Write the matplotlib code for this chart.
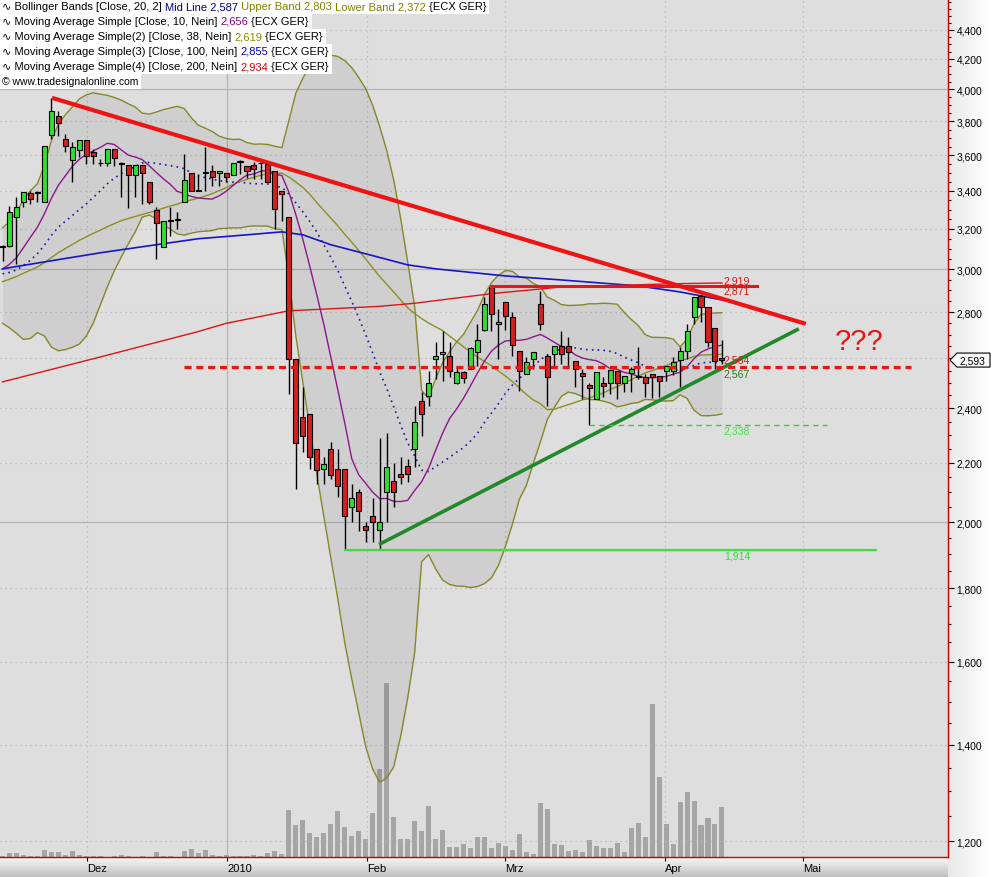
import numpy as np
import pandas as pd
import matplotlib
matplotlib.use("Agg")
import matplotlib.pyplot as plt
from matplotlib.patches import Polygon, Rectangle
from matplotlib.transforms import IdentityTransform
from matplotlib.ticker import FixedLocator, FuncFormatter, NullFormatter

plt.rcParams['font.family'] = ['Liberation Sans', 'DejaVu Sans']

# ECX EUA futures {ECX GER}, daily bars mid Nov 2009 .. mid Apr 2010 (bar 0..103)
opens = [3110, 3114, 3262, 3341, 3390, 3390, 3341, 3720, 3834, 3696,
         3573, 3631, 3690, 3619, 3556, 3556, 3637, 3556, 3545, 3488,
         3545, 3449, 3298, 3109, 3240, 3246, 3341, 3500, 3400, 3500,
         3511, 3499, 3499, 3488, 3562, 3539, 3545, 3556, 3550, 3511,
         3400, 3262, 2598, 2367, 2379, 2250, 2179, 2250, 2179, 2179,
         2050, 2100, 1988, 2021, 1976, 2100, 2137, 2161, 2190, 2250,
         2429, 2449, 2598, 2618, 2610, 2500, 2545, 2557, 2627, 2719,
         2915, 2748, 2847, 2779, 2631, 2537, 2598, 2837, 2610, 2618,
         2653, 2653, 2590, 2541, 2490, 2437, 2500, 2500, 2549, 2500,
         2541, 2524, 2524, 2537, 2528, 2549, 2549, 2594, 2631, 2779,
         2874, 2824, 2731, 2602]
highs = [3120, 3320, 3368, 3395, 3400, 3400, 3655, 3946, 3865, 3725,
         3678, 3690, 3690, 3637, 3579, 3637, 3637, 3562, 3545, 3545,
         3545, 3449, 3315, 3241, 3315, 3288, 3608, 3500, 3494, 3649,
         3545, 3511, 3499, 3556, 3573, 3539, 3562, 3562, 3562, 3511,
         3400, 3262, 2598, 2484, 2379, 2250, 2221, 2275, 2250, 2179,
         2127, 2110, 2001, 2080, 2290, 2308, 2200, 2221, 2214, 2410,
         2464, 2549, 2670, 2718, 2670, 2569, 2549, 2649, 2748, 2869,
         2915, 2815, 2847, 2801, 2631, 2606, 2627, 2897, 2618, 2653,
         2718, 2692, 2590, 2557, 2500, 2545, 2524, 2553, 2549, 2528,
         2565, 2649, 2537, 2537, 2528, 2569, 2606, 2649, 2748, 2869,
         2883, 2824, 2731, 2679]
lows = [3040, 3110, 3025, 3315, 3330, 3341, 3341, 3696, 3714, 3620,
        3449, 3590, 3550, 3550, 3539, 3539, 3539, 3368, 3309, 3368,
        3330, 3330, 3049, 3109, 3164, 3199, 3341, 3400, 3400, 3400,
        3427, 3427, 3449, 3488, 3494, 3471, 3466, 3466, 3449, 3199,
        3241, 2456, 2110, 2239, 2179, 2127, 2127, 2144, 2083, 1917,
        2001, 1973, 1939, 1939, 1917, 2001, 2050, 2127, 2134, 2186,
        2297, 2410, 2516, 2508, 2524, 2496, 2500, 2557, 2569, 2718,
        2718, 2598, 2722, 2610, 2468, 2537, 2557, 2722, 2410, 2569,
        2577, 2565, 2484, 2437, 2338, 2437, 2445, 2456, 2437, 2464,
        2464, 2516, 2445, 2441, 2445, 2508, 2532, 2484, 2598, 2748,
        2757, 2649, 2557, 2577]
closes = [3115, 3288, 3315, 3395, 3357, 3395, 3655, 3865, 3791, 3655,
          3649, 3690, 3596, 3596, 3558, 3637, 3585, 3550, 3488, 3545,
          3499, 3341, 3230, 3241, 3246, 3251, 3460, 3400, 3405, 3505,
          3477, 3511, 3477, 3556, 3568, 3511, 3522, 3558, 3449, 3304,
          3384, 2598, 2271, 2297, 2221, 2175, 2197, 2158, 2120, 2021,
          2080, 2037, 1976, 2001, 2001, 2186, 2100, 2151, 2161, 2349,
          2379, 2500, 2610, 2627, 2549, 2545, 2520, 2644, 2679, 2837,
          2793, 2757, 2784, 2657, 2549, 2586, 2627, 2748, 2524, 2653,
          2618, 2627, 2557, 2528, 2480, 2545, 2488, 2553, 2500, 2528,
          2557, 2528, 2500, 2524, 2508, 2569, 2586, 2631, 2718, 2869,
          2824, 2670, 2590, 2593]
volume = [1, 4, 4, 2, 1, 1, 7, 5, 5, 2.5,
          6.5, 2, 1, 1, 1, 0.5, 1, 2, 1, 0.5,
          1, 0.5, 5, 1, 1, 0.5, 6, 8, 4, 7,
          2, 1, 2, 1, 1, 1, 2, 1, 4, 6,
          3, 47, 32, 37, 24, 20, 24, 33, 46, 30,
          21, 26, 18, 44, 88, 174, 40, 18, 18, 36,
          26, 51, 18, 27, 10, 10, 13, 9, 20, 20,
          9, 14, 11, 7, 23, 5, 3, 54, 48, 13,
          12, 6, 7, 5, 17, 11, 9, 9, 14, 5,
          29, 34, 20, 153, 80, 33, 13, 55, 65, 56,
          32, 39, 33, 50]

# closes before the first bar on screen (not visible; estimated so that the
# 10/20/38 averages and the bands start where the chart shows them)
prior_close = [2860, 2830, 2800, 2780, 2820, 2870, 2910, 2890, 2860, 2880,
               2920, 2900, 2940, 2960, 2950, 2990, 2970, 3050,
               3150, 3080, 2960, 2850, 2760, 2800, 2880, 2960, 3040, 3060,
               3060, 2990, 2900, 2840, 2880, 2960, 3040, 3080, 3135]

# 100 / 200 day averages need more history than is shown
ma100_bar = [0, 7, 14, 21, 28, 35, 40, 43, 47, 52, 58, 62, 72, 80, 91, 97, 103]
ma100_val = [3001, 3040, 3079, 3114, 3149, 3169, 3184, 3169, 3119, 3074,
             3020, 3001, 2967, 2948, 2920, 2892, 2855]
ma200_bar = [0, 14, 28, 32, 41, 47, 54, 59, 70, 80, 96, 103]
ma200_val = [2504, 2606, 2714, 2750, 2806, 2815, 2826, 2840, 2884, 2915, 2930, 2934]

month_bar = [12.15, 32.15, 52.15, 72.0, 94.85, 114.6]
month_lab = ['Dez', '2010', 'Feb', 'Mrz', 'Apr', 'Mai']
price_ticks = list(range(1200, 4401, 200))

# hand drawn lines: (bars, prices)
down_trend = ([7.1, 115.0], [3946, 2748])
up_trend = ([53.9, 114.0], [1930, 2726])
top_line = ([70, 108], [2919, 2919])
mid_line = ([26, 130], [2564, 2564])
mar_low = ([84, 118], [2338, 2338])
feb_low = ([49, 125], [1914, 1914])

# indicators
n = len(closes)
bars = np.arange(n)
k = len(prior_close)
allc = pd.Series(prior_close + closes, dtype=float)
ma10 = allc.rolling(10).mean().to_numpy()[k:]
bb_mid = allc.rolling(20).mean().to_numpy()[k:]
bb_sd = allc.rolling(20).std(ddof=0).to_numpy()[k:]
bb_up = bb_mid + 2 * bb_sd
bb_lo = bb_mid - 2 * bb_sd
ma38 = allc.rolling(38).mean().to_numpy()[k:]

W, H = 991, 878
fig = plt.figure(figsize=(W / 100, H / 100), dpi=100)
fig.patch.set_facecolor('#e8e8e8')

# background strips (right scale, bottom date axis)
bg = fig.add_axes([0, 0, 1, 1], zorder=-5)
g = np.linspace(0, 1, 64)
bg.imshow(np.tile(0.91 + 0.09 * g, (8, 1)), cmap='gray', vmin=0, vmax=1,
          aspect='auto', extent=(948, W, H, 0), interpolation='bilinear')
bg.imshow(np.tile((0.97 - 0.22 * g)[:, None], (1, 8)), cmap='gray', vmin=0, vmax=1,
          aspect='auto', extent=(0, 948, H, 858), interpolation='bilinear')
bg.set_xlim(0, W)
bg.set_ylim(H, 0)
bg.axis('off')

pos = [0, 20 / H, 948 / W, 858 / H]
xlim = (-0.36, 135.36)

# volume pane (behind the price chart)
vax = fig.add_axes(pos)
vax.set_facecolor('#dedede')
vax.bar(bars, volume, width=0.72, color='#a5a5a5', lw=0)
vax.set_xlim(*xlim)
vax.set_ylim(0, 860)
vax.set_xticks([])
vax.set_yticks([])
for s in vax.spines.values():
    s.set_visible(False)

ax = fig.add_axes(pos)
ax.patch.set_visible(False)
ax.set_yscale('log')
ax.set_xlim(*xlim)
ax.set_ylim(1170, 4623)

# grid
for p in price_ticks:
    if p in (2000, 3000, 4000):
        ax.axhline(p, color='#b4b4b4', lw=0.9, zorder=0.5)
    else:
        ax.axhline(p, color='#b4b4b4', lw=0.9, ls=(0, (1, 3)), zorder=0.5)
for b, lab in zip(month_bar, month_lab):
    if lab == '2010':
        ax.axvline(b, color='#b4b4b4', lw=0.9, zorder=0.5)
    else:
        ax.axvline(b, color='#b4b4b4', lw=0.9, ls=(0, (1, 3)), zorder=0.5)

# bollinger bands + averages
ax.fill_between(bars, bb_lo, bb_up, color='black', alpha=0.065, lw=0, zorder=1)
ax.plot(bars, bb_up, color='#86862a', lw=1, zorder=2)
ax.plot(bars, bb_lo, color='#86862a', lw=1, zorder=2)
ax.plot(bars, bb_mid, color='#1a1aa0', lw=1.2, ls=(0, (1, 2.5)), zorder=2)
ax.plot(bars, ma38, color='#8e8e22', lw=1, zorder=2)
ax.plot(bars, ma10, color='#8b168b', lw=1, zorder=2)
ax.plot(ma100_bar, ma100_val, color='#1616cc', lw=1.2, zorder=2)
ax.plot(ma200_bar, ma200_val, color='#e01414', lw=1, zorder=2)

# candles
o = np.array(opens, dtype=float)
c = np.array(closes, dtype=float)
up = c >= o
ax.vlines(bars, lows, highs, color='black', lw=1, zorder=3)
ax.bar(bars, np.abs(c - o), bottom=np.minimum(o, c), width=0.72,
       color=np.where(up, '#2fe02f', '#d42020'), edgecolor='black', lw=0.8, zorder=3.1)

# drawn lines
ax.plot(*down_trend, color='#ee1414', lw=3, solid_capstyle='butt', zorder=4)
ax.plot(*up_trend, color='#22882a', lw=2.6, solid_capstyle='butt', zorder=4)
ax.plot(*top_line, color='#ee1414', lw=2.2, zorder=4)
ax.plot(*mid_line, color='#ee1414', lw=2.3, ls=(0, (2.2, 1.5)), dash_capstyle='butt', zorder=4)
ax.plot(*mar_low, color='#3ccc3c', lw=1, ls=(0, (4, 3)), zorder=4)
ax.plot(*feb_low, color='#33e833', lw=1.6, zorder=4)


def level_label(price, text, col, dy):
    ax.annotate(text, (103.15, price), xytext=(0.5, dy), textcoords='offset points',
                color=col, fontsize=7.6, ha='left', va='center', zorder=5)


level_label(2919, '2,919', '#e01414', 3.8)
level_label(2871, '2,871', '#e01414', 4.0)
level_label(2564, '2,564', '#e01414', 5.2)
level_label(2567, '2,567', '#1e7a1e', -5.5)
level_label(2338, '2,338', '#44dd44', -4.5)
level_label(1914, '1,914', '#33dd33', -4.5)
ax.text(119.2, 2674, '???', color='#e81414', fontsize=21, ha='left', va='center', zorder=5)


# scale labels; the one under the last-price marker is covered in the original
def price_fmt(v, p):
    if abs(np.log(v / closes[-1])) < 0.015:
        return ''
    return f'{v:,.0f}'


ax.yaxis.tick_right()
ax.yaxis.set_major_locator(FixedLocator(price_ticks))
ax.yaxis.set_major_formatter(FuncFormatter(price_fmt))
ax.yaxis.set_minor_locator(FixedLocator(list(range(1150, 4651, 50))))
ax.yaxis.set_minor_formatter(NullFormatter())
ax.tick_params(axis='y', which='major', length=4, width=0.8, pad=2, labelsize=7.4, colors='black')
ax.tick_params(axis='y', which='minor', length=2, width=0.8, colors='black')
ax.set_xticks(month_bar, month_lab)
ax.tick_params(axis='x', length=3, width=0.8, pad=1, labelsize=8)
for t in ax.get_xticklabels():
    t.set_ha('left')
for side in ('top', 'left'):
    ax.spines[side].set_visible(False)
for side in ('right', 'bottom'):
    ax.spines[side].set_color('#cc0000')
    ax.spines[side].set_linewidth(1)

# last price marker on the scale
yd = ax.transData.transform((0, closes[-1]))[1]
fig.add_artist(Polygon([(950, yd), (957, yd + 7), (990, yd + 7), (990, yd - 7), (957, yd - 7)],
                       closed=True, transform=IdentityTransform(), facecolor='#fafafa',
                       edgecolor='black', lw=0.8, zorder=6))
fig.text(959 / W, yd / H, f'{closes[-1]:,}', fontsize=7.4, va='center', ha='left', zorder=7)

# legend block top left
renderer = fig.canvas.get_renderer()


def legend_line(y, pieces, size=8):
    x = 2
    for s, col in pieces:
        t = fig.text(x / W, 1 - y / H, s, color=col, fontsize=size, ha='left', va='center', zorder=7)
        x += t.get_window_extent(renderer).width
    fig.add_artist(Rectangle((0, 1 - (y + 7.5) / H), (x + 3) / W, 15 / H, transform=fig.transFigure,
                             facecolor='white', edgecolor='none', zorder=6))


legend_line(7, [('∿ Bollinger Bands [Close, 20, 2] ', 'black'), ('Mid Line 2,587', '#000080'),
                (' Upper Band 2,803', '#808000'), (' Lower Band 2,372', '#808000'),
                (' {ECX GER}', 'black')])
legend_line(22, [('∿ Moving Average Simple [Close, 10, Nein] ', 'black'), ('2,656', '#800080'),
                 (' {ECX GER}', 'black')])
legend_line(37, [('∿ Moving Average Simple(2) [Close, 38, Nein] ', 'black'), ('2,619', '#8b8b00'),
                 (' {ECX GER}', 'black')])
legend_line(52, [('∿ Moving Average Simple(3) [Close, 100, Nein] ', 'black'), ('2,855', '#0000cc'),
                 (' {ECX GER}', 'black')])
legend_line(67, [('∿ Moving Average Simple(4) [Close, 200, Nein] ', 'black'), ('2,934', '#dd0000'),
                 (' {ECX GER}', 'black')])
legend_line(82, [('© www.tradesignalonline.com', 'black')], size=7.5)

fig.savefig('out.png', dpi=100)
